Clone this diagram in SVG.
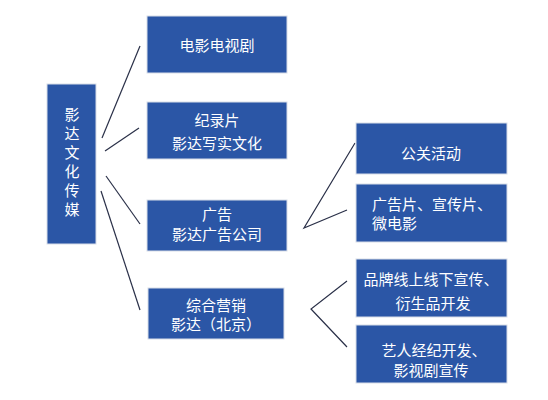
<svg xmlns="http://www.w3.org/2000/svg" width="548" height="400" viewBox="0 0 548 400">
<style>
.box{fill:#2b56a6;stroke:#d8dde8;stroke-width:1}
.t{fill:#fff;font-family:"Noto Sans CJK SC","Noto Sans",sans-serif;font-size:15px;text-anchor:middle;dominant-baseline:central}
.tl{text-anchor:start}
.c{stroke:#2a3048;stroke-width:1.2;fill:none}
</style>
<rect width="548" height="400" fill="#fff"/>
<g id="connectors">
<line class="c" x1="102" y1="138" x2="140" y2="46"/>
<line class="c" x1="105" y1="151" x2="139" y2="128"/>
<line class="c" x1="106" y1="176" x2="140" y2="224"/>
<line class="c" x1="101" y1="191" x2="140" y2="310"/>
<polyline class="c" points="355,143 304,228 347,210"/>
<polyline class="c" points="347,281 311,309 347,347"/>
</g>
<g id="root">
<rect class="box" x="47" y="84" width="49" height="160"/>
<text class="t" font-size="17" x="72" y="113">影</text>
<text class="t" font-size="17" x="72" y="132">达</text>
<text class="t" font-size="17" x="72" y="151">文</text>
<text class="t" font-size="17" x="72" y="170">化</text>
<text class="t" font-size="17" x="72" y="189">传</text>
<text class="t" font-size="17" x="72" y="208">媒</text>
</g>
<g id="n1">
<rect class="box" x="147" y="16" width="140" height="57"/>
<text class="t" x="217" y="44">电影电视剧</text>
</g>
<g id="n2">
<rect class="box" x="147" y="102" width="140" height="57"/>
<text class="t" x="217" y="119">纪录片</text>
<text class="t" x="217" y="142">影达写实文化</text>
</g>
<g id="n3">
<rect class="box" x="147" y="200" width="140" height="51"/>
<text class="t" x="217" y="213">广告</text>
<text class="t" x="217" y="233">影达广告公司</text>
</g>
<g id="n4">
<rect class="box" x="148" y="288" width="136" height="51"/>
<text class="t" x="216" y="304">综合营销</text>
<text class="t" x="216" y="323">影达（北京）</text>
</g>
<g id="n5">
<rect class="box" x="356" y="123" width="151" height="51"/>
<text class="t" x="431" y="152">公关活动</text>
</g>
<g id="n6">
<rect class="box" x="356" y="184" width="151" height="58"/>
<text class="t tl" x="372" y="203">广告片、宣传片、</text>
<text class="t tl" x="372" y="222">微电影</text>
</g>
<g id="n7">
<rect class="box" x="356" y="259" width="151" height="58"/>
<text class="t" x="431" y="278">品牌线上线下宣传、</text>
<text class="t" x="433" y="302">衍生品开发</text>
</g>
<g id="n8">
<rect class="box" x="356" y="325" width="151" height="58"/>
<text class="t" x="434" y="349">艺人经纪开发、</text>
<text class="t" x="431" y="369">影视剧宣传</text>
</g>
</svg>
